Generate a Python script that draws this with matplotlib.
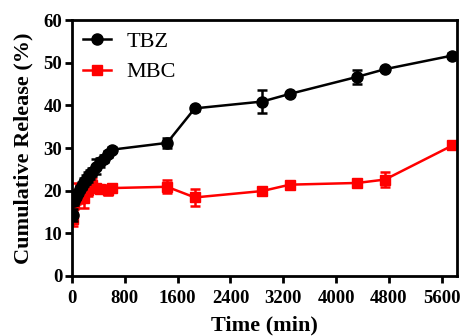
import numpy as np
import matplotlib
matplotlib.use("Agg")
import matplotlib.pyplot as plt
from matplotlib.lines import Line2D

plt.rcParams["font.family"] = ["Liberation Serif", "DejaVu Serif"]

# release data, time in min
tbz_t = [10, 30, 60, 90, 120, 150, 180, 210, 240, 270, 300, 360, 420, 480, 540, 600,
         1440, 1860, 2880, 3300, 4320, 4740, 5760]
tbz_y = [14.3, 17.5, 18.6, 19.5, 20.4, 21.2, 22.0, 22.6, 23.2, 23.8, 24.4, 25.6, 26.6,
         27.5, 28.6, 29.6, 31.2, 39.3, 40.9, 42.7, 46.7, 48.5, 51.7]
tbz_err = [1.5, 0.8, 0.6, 0.6, 0.8, 0.8, 1.0, 1.0, 1.2, 1.0, 1.0, 1.8, 1.0, 0.8, 0.8, 0.6,
           1.2, 0.5, 2.8, 0.4, 1.6, 0.5, 0.5]

mbc_t = [10, 30, 60, 120, 180, 240, 300, 360, 420, 540, 600,
         1440, 1860, 2880, 3300, 4320, 4740, 5760]
mbc_y = [13.4, 16.8, 19.3, 19.0, 18.3, 20.2, 21.3, 20.6, 20.4, 20.2, 20.6,
         20.9, 18.4, 19.9, 21.4, 21.8, 22.6, 30.6]
mbc_err = [1.8, 1.2, 2.4, 1.8, 2.4, 1.5, 1.6, 1.0, 0.8, 1.2, 0.8,
           1.5, 2.0, 0.5, 0.5, 0.5, 1.8, 0.6]

fig = plt.figure(figsize=(4.64, 3.36), dpi=100)
ax = fig.add_axes([0.155, 0.179, 0.83, 0.761])

ax.errorbar(mbc_t, mbc_y, yerr=mbc_err, color="#ff0000", marker="s", markersize=7.5,
            linewidth=1.8, elinewidth=1.8, capsize=3.5, capthick=1.8, zorder=2)
ax.errorbar(tbz_t, tbz_y, yerr=tbz_err, color="black", marker="o", markersize=8,
            linewidth=1.8, elinewidth=1.8, capsize=3.5, capthick=1.8, zorder=3)

ax.set_xlim(0, 5830)
ax.set_ylim(0, 60)
ax.set_xticks(np.arange(0, 5601, 800))
ax.set_yticks(np.arange(0, 61, 10))

for s in ax.spines.values():
    s.set_linewidth(2)
ax.tick_params(direction="out", length=5, width=2, labelsize=13.5, pad=2)
ax.tick_params(axis="x", pad=5)
for lab in ax.get_xticklabels() + ax.get_yticklabels():
    lab.set_fontweight("bold")

ax.set_xlabel("Time (min)", fontsize=16, fontweight="bold", labelpad=6)
ax.set_ylabel("Cumulative Release (%)", fontsize=16, fontweight="bold", labelpad=7)

handles = [
    Line2D([], [], color="black", marker="o", markersize=8, linewidth=1.8),
    Line2D([], [], color="#ff0000", marker="s", markersize=7.5, linewidth=1.8),
]
ax.legend(handles, ["TBZ", "MBC"], loc="upper left", frameon=False, fontsize=16,
          handlelength=1.25, handletextpad=0.7, borderaxespad=0.1, labelspacing=0.45)

plt.savefig("out.png", dpi=100)
